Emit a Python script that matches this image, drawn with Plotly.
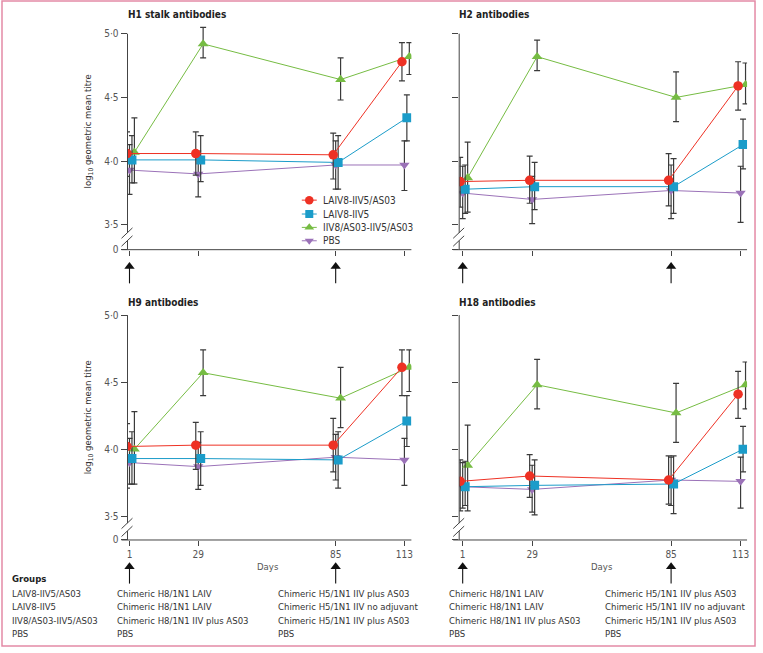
import plotly.graph_objects as go

days = [1, 29, 85, 113]
groups = ["LAIV8-IIV5/AS03", "LAIV8-IIV5", "IIV8/AS03-IIV5/AS03", "PBS"]
panel_titles = ["H1 stalk antibodies", "H2 antibodies", "H9 antibodies", "H18 antibodies"]
y_ticktext = ["0", "3·5", "4·0", "4·5", "5·0"]

# log10 geometric mean titre, upper and lower CI; one row per group (order as in groups)
h1_mean = [[4.06, 4.06, 4.05, 4.78], [4.01, 4.01, 3.99, 4.34], [4.07, 4.92, 4.64, 4.82], [3.93, 3.90, 3.97, 3.97]]
h1_upper = [[4.23, 4.23, 4.22, 4.93], [4.20, 4.20, 4.20, 4.52], [4.34, 5.05, 4.81, 4.93], [4.13, 4.08, 4.16, 4.16]]
h1_lower = [[3.88, 3.89, 3.86, 4.63], [3.83, 3.84, 3.78, 4.16], [3.83, 4.81, 4.48, 4.68], [3.74, 3.72, 3.78, 3.77]]

h2_mean = [[3.84, 3.85, 3.85, 4.59], [3.78, 3.80, 3.80, 4.13], [3.87, 4.82, 4.50, 4.60], [3.75, 3.70, 3.77, 3.75]]
h2_upper = [[4.03, 4.04, 4.06, 4.78], [3.97, 3.99, 4.02, 4.33], [4.15, 4.95, 4.70, 4.77], [3.96, 3.88, 3.97, 3.96]]
h2_lower = [[3.64, 3.67, 3.65, 4.40], [3.59, 3.62, 3.59, 3.94], [3.60, 4.71, 4.31, 4.45], [3.55, 3.51, 3.55, 3.52]]

h9_mean = [[4.02, 4.03, 4.03, 4.61], [3.93, 3.93, 3.92, 4.21], [4.00, 4.57, 4.38, 4.61], [3.90, 3.87, 3.94, 3.92]]
h9_upper = [[4.19, 4.20, 4.23, 4.74], [4.13, 4.13, 4.13, 4.40], [4.28, 4.74, 4.61, 4.74], [4.08, 4.05, 4.11, 4.08]]
h9_lower = [[3.71, 3.85, 3.83, 4.40], [3.74, 3.73, 3.71, 4.02], [3.74, 4.40, 4.16, 4.43], [3.74, 3.70, 3.77, 3.73]]

h18_mean = [[3.76, 3.80, 3.77, 4.41], [3.72, 3.73, 3.74, 4.00], [3.88, 4.48, 4.27, 4.48], [3.72, 3.70, 3.77, 3.76]]
h18_upper = [[3.92, 3.96, 3.95, 4.58], [3.91, 3.92, 3.95, 4.17], [4.18, 4.67, 4.49, 4.65], [3.90, 3.88, 3.94, 3.94]]
h18_lower = [[3.54, 3.64, 3.59, 4.23], [3.58, 3.51, 3.52, 3.83], [3.54, 4.30, 4.05, 4.30], [3.56, 3.53, 3.58, 3.56]]

# group table under the chart
table_groups = ["LAIV8-IIV5/AS03", "LAIV8-IIV5", "IIV8/AS03-IIV5/AS03", "PBS"]
table_prime = ["Chimeric H8/1N1 LAIV", "Chimeric H8/1N1 LAIV", "Chimeric H8/1N1 IIV plus AS03", "PBS"]
table_boost = ["Chimeric H5/1N1 IIV plus AS03", "Chimeric H5/1N1 IIV no adjuvant", "Chimeric H5/1N1 IIV plus AS03", "PBS"]
vaccination_days = [1, 85]

panel_data = [(h1_mean, h1_upper, h1_lower), (h2_mean, h2_upper, h2_lower),
              (h9_mean, h9_upper, h9_lower), (h18_mean, h18_upper, h18_lower)]

colors = ["#ee3124", "#1b9cc9", "#76bc43", "#9b72b8"]
symbols = ["circle", "square", "triangle-up", "triangle-down"]
sizes = [9.5, 9, 9.5, 9]
dodge = [-1, 1, 2, 0]
draw_order = [3, 2, 1, 0]

W, H = 763, 653
FONT = "DejaVu Sans Condensed, Liberation Sans Narrow, sans-serif"
FS = 9.5
INK = "#333333"
AXC = "#444444"

# panel geometry in pixels
cols = [dict(x0=127, x1=412, d1=129, d113=405), dict(x0=460, x1=749, d1=463.5, d113=742.5)]
rows = [dict(top=22, bot=252, v5=34, v35=227, title=15),
        dict(top=306, bot=545, v5=318, v35=521, title=305)]


def xr(c):
    s = (c["d113"] - c["d1"]) / 112
    return [1 + (c["x0"] - c["d1"]) / s, 1 + (c["x1"] - c["d1"]) / s]


def yr(r):
    s = (r["v35"] - r["v5"]) / 1.5
    return [3.5 - (r["bot"] - r["v35"]) / s, 5.0 + (r["v5"] - r["top"]) / s]


fig = go.Figure()
shapes = []
annotations = []
layout = {}
arrow_x, arrow_y = [], []

for p in range(4):
    ri, ci = p // 2, p % 2
    c, r = cols[ci], rows[ri]
    k = "" if p == 0 else str(p + 1)
    mean, upper, lower = panel_data[p]
    for g in draw_order:
        fig.add_trace(go.Scatter(
            x=[d + dodge[g] for d in days], y=mean[g],
            mode="lines+markers", xaxis="x" + k, yaxis="y" + k,
            line=dict(color=colors[g], width=1),
            marker=dict(symbol=symbols[g], size=sizes[g], color=colors[g]),
            error_y=dict(type="data", symmetric=False,
                         array=[u - m for u, m in zip(upper[g], mean[g])],
                         arrayminus=[m - l for m, l in zip(mean[g], lower[g])],
                         color="#3a3a3a", thickness=1.2, width=3),
            name=groups[g], showlegend=False, hoverinfo="skip"))
    yrange = yr(r)
    layout["xaxis" + k] = dict(
        domain=[c["x0"] / W, c["x1"] / W], range=xr(c), anchor="y" + k,
        showgrid=False, zeroline=False, showline=False,
        tickmode="array", tickvals=days, ticktext=[str(d) for d in days],
        ticks="outside", ticklen=5, tickcolor=AXC, tickwidth=1,
        showticklabels=(ri == 1), tickfont=dict(family=FONT, size=FS + 0.5, color="#555"))
    layout["yaxis" + k] = dict(
        domain=[1 - r["bot"] / H, 1 - r["top"] / H], range=yrange, anchor="x" + k,
        showgrid=False, zeroline=False, showline=False,
        tickmode="array", tickvals=[yrange[0], 3.5, 4.0, 4.5, 5.0], ticktext=y_ticktext,
        ticks="outside", ticklen=6, tickcolor=AXC, tickwidth=1,
        showticklabels=(ci == 0), tickfont=dict(family=FONT, size=FS + 0.5, color="#555"))

    # axes drawn by hand so the y axis can carry its break
    yax = c["x0"]
    shapes.append(dict(type="line", xref="x5", yref="y5", x0=yax - 6, x1=c["x1"],
                       y0=r["bot"], y1=r["bot"], line=dict(color=AXC, width=1)))
    shapes.append(dict(type="line", xref="x5", yref="y5", x0=yax, x1=yax,
                       y0=r["v5"], y1=r["bot"] - 17, line=dict(color=AXC, width=1)))
    shapes.append(dict(type="line", xref="x5", yref="y5", x0=yax, x1=yax,
                       y0=r["bot"] - 9, y1=r["bot"], line=dict(color=AXC, width=1)))
    for dy in (0, 8):
        shapes.append(dict(type="line", xref="x5", yref="y5", x0=yax - 6, x1=yax + 5,
                           y0=r["bot"] - 11.5 + dy, y1=r["bot"] - 22 + dy,
                           line=dict(color=AXC, width=1)))

    annotations.append(dict(text="<b>" + panel_titles[p] + "</b>", xref="x5", yref="y5",
                            x=yax - 2, y=r["title"], xanchor="left", yanchor="middle",
                            showarrow=False, font=dict(family=FONT, size=FS + 0.5, color="#222")))
    # vaccination arrows at day 1 and day 85
    head = r["bot"] + 13 if ri == 0 else r["bot"] + 23
    for d in vaccination_days:
        xpx = c["d1"] + (d - 1) * (c["d113"] - c["d1"]) / 112
        shapes.append(dict(type="line", xref="x5", yref="y5", x0=xpx, x1=xpx,
                           y0=head + 5, y1=head + 21, line=dict(color="#111", width=1.1)))
        arrow_x.append(xpx)
        arrow_y.append(head + 4)
    if ci == 0:
        annotations.append(dict(text="log<sub>10</sub> geometric mean titre", xref="x5", yref="y5",
                                x=88, y=(r["v5"] + r["bot"]) / 2 - 10, textangle=-90,
                                showarrow=False, font=dict(family=FONT, size=FS, color=INK)))
    if ri == 1:
        annotations.append(dict(text="Days", xref="x5", yref="y5",
                                x=(c["x0"] + c["x1"]) / 2 - 1, y=572, showarrow=False,
                                font=dict(family=FONT, size=FS, color="#555")))

fig.add_trace(go.Scatter(x=arrow_x, y=arrow_y, mode="markers", xaxis="x5", yaxis="y5",
                         marker=dict(symbol="triangle-up", size=9, color="#111"),
                         showlegend=False, hoverinfo="skip"))

# legend drawn inside the H1 panel
leg_y = [202, 216, 229.5, 243]
for g in range(4):
    fig.add_trace(go.Scatter(x=[302, 317], y=[leg_y[g], leg_y[g]], mode="lines", xaxis="x5", yaxis="y5",
                             line=dict(color=colors[g], width=1), showlegend=False, hoverinfo="skip"))
    fig.add_trace(go.Scatter(x=[309.5], y=[leg_y[g]], mode="markers", xaxis="x5", yaxis="y5",
                             marker=dict(symbol=symbols[g], size=sizes[g] - 1, color=colors[g]),
                             showlegend=False, hoverinfo="skip"))
    annotations.append(dict(text=groups[g], xref="x5", yref="y5", x=321, y=leg_y[g],
                            xanchor="left", yanchor="middle", showarrow=False,
                            font=dict(family=FONT, size=FS + 0.5, color=INK)))

# group table
annotations.append(dict(text="<b>Groups</b>", xref="x5", yref="y5", x=9, y=584, xanchor="left",
                        yanchor="middle", showarrow=False, font=dict(family=FONT, size=FS, color="#222")))
row_y = [599, 612.5, 626, 639.5]
col_x = [9, 114, 276, 448, 604]
for i in range(4):
    for cx, txt in zip(col_x, [table_groups[i], table_prime[i], table_boost[i], table_prime[i], table_boost[i]]):
        annotations.append(dict(text=txt, xref="x5", yref="y5", x=cx, y=row_y[i], xanchor="left",
                                yanchor="middle", showarrow=False, font=dict(family=FONT, size=FS, color=INK)))

# pink frame
shapes.append(dict(type="rect", xref="x5", yref="y5", x0=1, x1=757, y0=1, y1=652,
                   line=dict(color="#e48aa6", width=1.5)))

layout["xaxis5"] = dict(domain=[0, 1], range=[0, W], anchor="y5", visible=False, fixedrange=True)
layout["yaxis5"] = dict(domain=[0, 1], range=[H, 0], anchor="x5", visible=False, fixedrange=True)

fig.update_layout(**layout)
fig.update_layout(
    width=W, height=H, margin=dict(l=0, r=0, t=0, b=0),
    paper_bgcolor="white", plot_bgcolor="rgba(0,0,0,0)",
    font=dict(family=FONT, size=FS, color=INK),
    shapes=shapes, annotations=annotations, showlegend=False)

fig.write_html("out.html", config={"displayModeBar": False},
               post_script="document.body.style.margin='0';")
